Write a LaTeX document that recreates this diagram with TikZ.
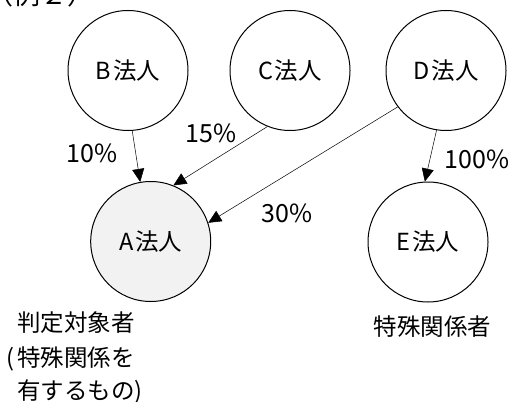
\documentclass[tikz,border=0pt]{standalone}
\usepackage{fontspec}
\setmainfont{Noto Sans CJK JP}
\usetikzlibrary{arrows.meta}
\definecolor{targetgray}{HTML}{F2F2F2}

\begin{document}
\begin{tikzpicture}[x=1pt, y=-1pt, node distance=160pt, auto,
  font=\fontsize{23.5pt}{32.5pt}\selectfont,
  corp/.style={draw, circle, line width=1pt, minimum size=120pt, inner sep=0pt},
  share/.style={-{Triangle[length=13pt, width=12pt]}, line width=0.5pt},
  pct/.style={font=\fontsize{25pt}{30pt}\selectfont}]
  \useasboundingbox (0,0) rectangle (513,401);

  \node[anchor=base west, font=\fontsize{27pt}{30pt}\selectfont] (title) at (-17,5) {（例２）};

  \node[corp] (b) at (128,70.5) {B\hspace{2pt}法人};
  \node[corp, right of=b, xshift=2pt] (c) {C\hspace{2pt}法人};
  \node[corp, right of=c, xshift=-4pt] (d) {D\hspace{2pt}法人};
  \node[corp, fill=targetgray] (a) at (150.7,241.5) {A\hspace{2pt}法人};
  \node[corp] (e) at (428,242) {E\hspace{2pt}法人};

  \draw[share] (b.274) -- (a.100);
  \draw[share] (c.248) -- (a.68);
  \draw[share] (d.217) -- (a.18);
  \draw[share] (d.261) -- (e.93);

  \node[pct] (pb) at (92,153) {10\%};
  \node[pct] (pc) at (211,133) {15\%};
  \node[pct] (pd) at (287,213) {30\%};
  \node[pct] (pe) at (477,159) {100\%};

  \node[align=left, anchor=north west, inner sep=0pt] (alabel) at (6,311)
    {\hspace*{11pt}判定対象者\\[3pt]\makebox[11pt][l]{(}特殊関係を\\\hspace*{11pt}有するもの)};
  \node (elabel) at (432.5,326.7) {特殊関係者};
\end{tikzpicture}
\end{document}
